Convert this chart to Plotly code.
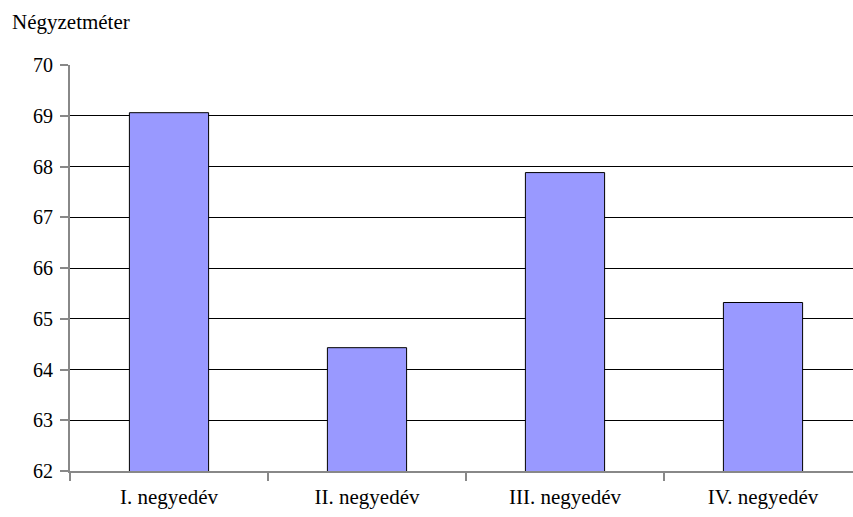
import plotly.graph_objects as go

# Quarterly average floor area (square metres)
quarters = ["I. negyedév", "II. negyedév", "III. negyedév", "IV. negyedév"]
area_m2 = [69.06, 64.43, 67.88, 65.32]
y_ticks = [62, 63, 64, 65, 66, 67, 68, 69, 70]
unit_label = "Négyzetméter"

W, H = 853, 517
ML, MR, MT, MB = 70, 0, 65, 46
plot_w = W - ML - MR
plot_h = H - MT - MB
cat_px = 198.0  # width of one category slot

serif = "Liberation Serif"

fig = go.Figure(
    go.Bar(
        x=quarters,
        y=area_m2,
        marker=dict(color="#9999FF", line=dict(color="#000000", width=1)),
        hoverinfo="x+y",
    )
)

fig.update_layout(
    width=W,
    height=H,
    margin=dict(l=ML, r=MR, t=MT, b=MB),
    paper_bgcolor="white",
    plot_bgcolor="white",
    bargap=0.6,
    showlegend=False,
    font=dict(family=serif, size=20, color="black"),
    xaxis=dict(
        type="category",
        range=[-0.5, -0.5 + plot_w / cat_px],
        showline=True,
        linecolor="#888888",
        linewidth=2,
        ticks="outside",
        tickson="boundaries",
        ticklen=8,
        tickcolor="#888888",
        tickwidth=2,
        showgrid=False,
        tickfont=dict(family=serif, size=21, color="black"),
        ticklabelstandoff=6,
    ),
    yaxis=dict(
        range=[62, 70],
        tickvals=y_ticks,
        showline=True,
        linecolor="#888888",
        linewidth=2,
        ticks="outside",
        ticklen=8,
        tickcolor="#888888",
        tickwidth=2,
        showgrid=True,
        gridcolor="#000000",
        gridwidth=1,
        zeroline=False,
        tickfont=dict(family=serif, size=20, color="black"),
        ticklabelstandoff=3,
    ),
    annotations=[
        dict(
            text=unit_label,
            xref="paper",
            yref="paper",
            # 10 px from the left edge, centred 22 px below the top of the page
            x=(10 - ML) / plot_w,
            y=(H - MB - 22) / plot_h,
            xanchor="left",
            yanchor="middle",
            showarrow=False,
            font=dict(family=serif, size=21, color="black"),
        )
    ],
)

fig.write_html("out.html")
